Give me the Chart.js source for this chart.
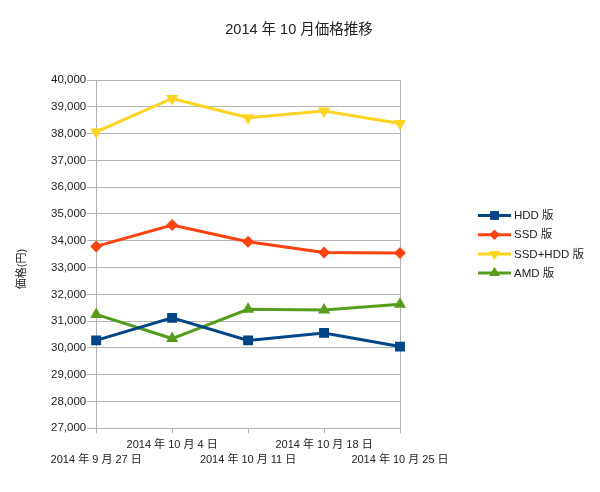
<!DOCTYPE html>
<html>
<head>
<meta charset="utf-8">
<script src="https://cdn.jsdelivr.net/npm/chart.js@4/dist/chart.umd.min.js"></script>
<style>
  html, body { margin: 0; padding: 0; background: #fff; }
  #wrap { width: 600px; height: 492px; }
</style>
</head>
<body>
<div id="wrap"><canvas id="myChart"></canvas></div>
<script>
var dates = ["2014 年 9 月 27 日", "2014 年 10 月 4 日", "2014 年 10 月 11 日", "2014 年 10 月 18 日", "2014 年 10 月 25 日"];
var hdd = [30280, 31120, 30280, 30560, 30050];
var ssd = [33790, 34590, 33960, 33560, 33540];
var ssdHdd = [38060, 39310, 38590, 38840, 38380];
var amd = [31250, 30350, 31440, 31420, 31630];

var fontFam = "'Liberation Sans', Arial, 'Noto Sans CJK JP', sans-serif";
Chart.defaults.font.family = fontFam;
Chart.defaults.color = "#222";

function mkSet(label, data, color, style, rot, r) {
  return {
    label: label,
    data: data,
    borderColor: color,
    backgroundColor: color,
    borderWidth: 3,
    pointStyle: style,
    rotation: rot,
    pointRadius: r,
    pointBorderWidth: 0,
    tension: 0
  };
}

// title, legend on the right (line + marker) and the y title, drawn by hand
var extras = {
  id: "extras",
  afterDraw: function(chart) {
    var g = chart.ctx;
    g.save();
    g.fillStyle = "#222";
    g.textAlign = "center";
    g.textBaseline = "middle";
    g.font = "14.5px " + fontFam;
    g.fillText("2014 年 10 月価格推移", 299, 30);

    g.textAlign = "left";
    g.font = "11.5px " + fontFam;
    chart.data.datasets.forEach(function(ds, i) {
      var y = 215.5 + i * 19.2;
      g.strokeStyle = ds.borderColor;
      g.fillStyle = ds.borderColor;
      g.lineWidth = 3;
      g.beginPath(); g.moveTo(478, y); g.lineTo(511, y); g.stroke();
      Chart.helpers.drawPoint(g, { pointStyle: ds.pointStyle, rotation: ds.rotation, radius: ds.pointRadius - 1, borderWidth: 0 }, 494.5, y);
      g.fill();
      g.fillStyle = "#222";
      g.fillText(ds.label, 514, y + 0.5);
    });

    g.translate(22, 269);
    g.rotate(-Math.PI / 2);
    g.textAlign = "center";
    g.font = "11px " + fontFam;
    g.fillText("価格(円)", 0, 0);
    g.restore();
  }
};

var ctx = document.getElementById("myChart").getContext("2d");
var myChart = new Chart(ctx, {
  type: "line",
  data: {
    labels: dates,
    datasets: [
      mkSet("HDD 版", hdd, "#004586", "rect", 0, 7),
      mkSet("SSD 版", ssd, "#ff420e", "rectRot", 0, 6),
      mkSet("SSD+HDD 版", ssdHdd, "#ffd320", "triangle", 180, 7),
      mkSet("AMD 版", amd, "#579d1c", "triangle", 0, 7)
    ]
  },
  plugins: [extras],
  options: {
    responsive: true,
    maintainAspectRatio: false,
    animation: false,
    layout: { padding: { left: 50, right: 200, top: 80, bottom: 21 } },
    plugins: {
      legend: { display: false },
      tooltip: { enabled: false }
    },
    scales: {
      x: {
        offset: false,
        grid: {
          drawOnChartArea: true,
          color: function(c) { return c.index == dates.length - 1 ? "#b3b3b3" : "rgba(0,0,0,0)"; },
          tickColor: "#b3b3b3",
          tickLength: 5
        },
        border: { color: "#b3b3b3" },
        ticks: {
          autoSkip: false,
          maxRotation: 0,
          minRotation: 0,
          padding: 4,
          font: { size: 11, lineHeight: 1.35 },
          color: "#222",
          callback: function(v, i) {
            var s = dates[i];
            return i % 2 == 1 ? [s, ""] : ["", s];
          }
        }
      },
      y: {
        min: 27000,
        max: 40000,
        grid: { color: "#b3b3b3", tickColor: "#b3b3b3", tickLength: 9 },
        border: { color: "#b3b3b3" },
        ticks: {
          stepSize: 1000,
          padding: 1,
          font: { size: 11.5 },
          color: "#222",
          callback: function(v) { return v.toLocaleString("en-US"); }
        }
      }
    }
  }
});
</script>
</body>
</html>
